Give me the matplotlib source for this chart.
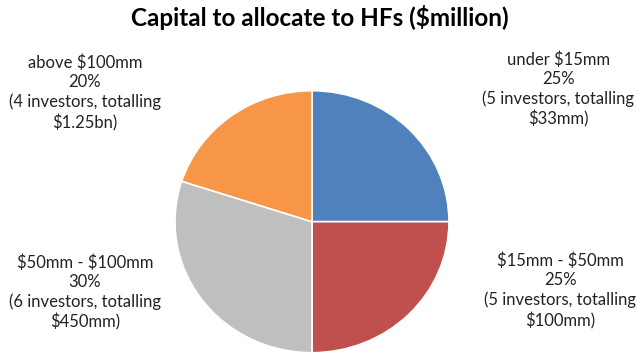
import matplotlib.pyplot as plt

# pie data, clockwise from 12 o'clock
categories = ["under $15mm", "$15mm - $50mm", "$50mm - $100mm", "above $100mm"]
shares = [25, 25, 30, 20]
investors = [5, 5, 6, 4]
totals = ["$33mm", "$100mm", "$450mm", "$1.25bn"]
colors = ["#4F81BD", "#C0504D", "#BFBFBF", "#F79646"]

# where each label block sits (figure fraction, centre of block)
label_pos = [(0.874, 0.752), (0.877, 0.192), (0.133, 0.187), (0.133, 0.742)]

plt.rcParams['font.family'] = ['Lato', 'DejaVu Sans']

fig = plt.figure(figsize=(6.39, 3.6), dpi=100)
ax = fig.add_axes([0, 0, 1, 1])

ax.pie(shares, colors=colors, startangle=90, counterclock=False,
       wedgeprops=dict(edgecolor="white", linewidth=1.2))
ax.set_aspect('auto')
ax.set_xlim(-312 / 137, (639 - 312) / 137)
ax.set_ylim(-138.3 / 131, (360 - 138.3) / 131)
ax.axis('off')

for i in range(len(categories)):
    txt = "%s\n%d%%\n(%d investors, totalling\n%s)" % (categories[i], shares[i], investors[i], totals[i])
    fig.text(label_pos[i][0], label_pos[i][1], txt, ha='center', va='center',
             fontsize=12, color="#222222", linespacing=1.25, parse_math=False)

fig.text(0.5, 0.95, "Capital to allocate to HFs ($million)", ha='center', va='center',
         fontsize=17.5, fontweight='bold', color="black", parse_math=False)

plt.savefig("out.png", dpi=100)
